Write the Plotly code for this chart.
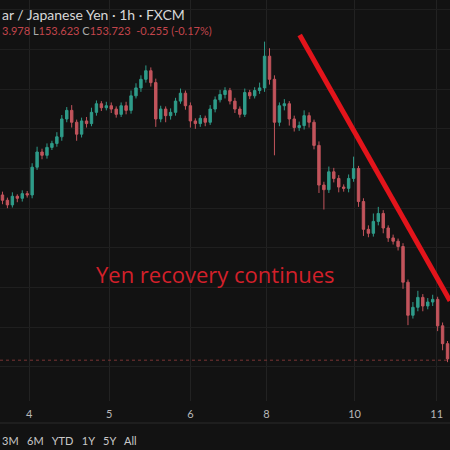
import plotly.graph_objects as go

# hourly USD/JPY candles (closes, open = previous close)
closes = [156.12, 156.05, 156.18, 156.15, 156.22, 156.20, 156.62, 156.85, 156.80, 156.92,
          156.98, 157.08, 157.35, 157.48, 157.30, 157.12, 157.32, 157.28, 157.45, 157.58,
          157.52, 157.55, 157.50, 157.42, 157.55, 157.48, 157.70, 157.82, 157.95, 158.08,
          157.90, 157.35, 157.50, 157.40, 157.45, 157.62, 157.74, 157.55, 157.32, 157.28,
          157.36, 157.30, 157.50, 157.64, 157.72, 157.78, 157.62, 157.50, 157.42, 157.75,
          157.70, 157.78, 157.82, 158.30, 157.95, 157.30, 157.55, 157.58, 157.35, 157.22,
          157.25, 157.40, 157.30, 156.95, 156.35, 156.28, 156.55, 156.45, 156.32, 156.30,
          156.45, 156.60, 156.10, 155.68, 155.62, 155.80, 155.92, 155.70, 155.55, 155.50,
          155.42, 154.88, 154.38, 154.50, 154.65, 154.52, 154.58, 154.62, 154.22, 153.95,
          153.72]
first_open = 156.20
upper_wick = [0.05, 0.04, 0.06, 0.03, 0.05, 0.04, 0.06, 0.08, 0.05, 0.06,
              0.04, 0.07, 0.06, 0.05, 0.08, 0.04, 0.05, 0.06, 0.07, 0.05,
              0.04, 0.06, 0.05, 0.04, 0.05, 0.06, 0.08, 0.07, 0.06, 0.08,
              0.05, 0.06, 0.05, 0.04, 0.06, 0.05, 0.07, 0.04, 0.05, 0.04,
              0.05, 0.04, 0.06, 0.05, 0.07, 0.05, 0.04, 0.05, 0.04, 0.06,
              0.04, 0.05, 0.08, 0.22, 0.12, 0.06, 0.05, 0.07, 0.04, 0.05,
              0.06, 0.08, 0.05, 0.04, 0.06, 0.05, 0.08, 0.06, 0.05, 0.04,
              0.06, 0.18, 0.04, 0.05, 0.06, 0.12, 0.10, 0.05, 0.04, 0.05,
              0.04, 0.05, 0.04, 0.08, 0.10, 0.05, 0.06, 0.07, 0.04, 0.05,
              0.04]
lower_wick = [0.06, 0.05, 0.04, 0.06, 0.05, 0.04, 0.05, 0.04, 0.06, 0.05,
              0.04, 0.05, 0.06, 0.05, 0.08, 0.10, 0.05, 0.06, 0.04, 0.05,
              0.05, 0.04, 0.06, 0.05, 0.04, 0.06, 0.05, 0.04, 0.06, 0.05,
              0.06, 0.12, 0.05, 0.10, 0.06, 0.05, 0.04, 0.06, 0.10, 0.08,
              0.05, 0.06, 0.04, 0.05, 0.04, 0.06, 0.05, 0.06, 0.05, 0.04,
              0.05, 0.04, 0.05, 0.06, 0.08, 0.50, 0.06, 0.07, 0.10, 0.06,
              0.05, 0.06, 0.08, 0.06, 0.12, 0.30, 0.05, 0.06, 0.08, 0.05,
              0.06, 0.05, 0.08, 0.10, 0.06, 0.05, 0.06, 0.08, 0.06, 0.05,
              0.06, 0.10, 0.15, 0.05, 0.06, 0.08, 0.05, 0.06, 0.08, 0.10,
              0.05]
tick_pos = [5.4, 21.6, 38, 53.4, 71.2, 87.8]
tick_text = ["4", "5", "6", "8", "10", "11"]

opens = [first_open] + closes[:-1]
highs = [max(o, c) + w for o, c, w in zip(opens, closes, upper_wick)]
lows = [min(o, c) - w for o, c, w in zip(opens, closes, lower_wick)]
idx = list(range(len(closes)))

fig = go.Figure(go.Candlestick(
    x=idx, open=opens, high=highs, low=lows, close=closes,
    increasing=dict(line=dict(color="#2f9c8a", width=1), fillcolor="#2f9c8a"),
    decreasing=dict(line=dict(color="#c2545c", width=1), fillcolor="#c2545c"),
    whiskerwidth=0, showlegend=False,
))

fig.add_shape(type="line", xref="x", yref="y", x0=-0.5, x1=90.5, y0=153.70, y1=153.70,
              line=dict(color="#7a3535", width=1, dash="dot"))
fig.add_shape(type="line", xref="x", yref="y", x0=60.1, y0=158.62, x1=90.5, y1=154.6,
              line=dict(color="#e3141b", width=5))
fig.add_annotation(x=43, y=155.0, text="Yen recovery continues", showarrow=False,
                   font=dict(color="#d3202a", size=22, family="Open Sans"))

# header and footer
fig.add_annotation(xref="paper", yref="paper", x=0, y=1, xanchor="left", yanchor="top",
                   yshift=-4, showarrow=False,
                   text="ar / Japanese Yen · 1h · FXCM",
                   font=dict(color="#d8d8d8", size=14, family="Lato"))
fig.add_annotation(xref="paper", yref="paper", x=0, y=1, xanchor="left", yanchor="top",
                   yshift=-22, showarrow=False,
                   text="<span style='color:#c2454c'>3.978</span> <span style='color:#aaa'>L</span>"
                        "<span style='color:#c2454c'>153.623</span> <span style='color:#aaa'>C</span>"
                        "<span style='color:#c2454c'>153.723  -0.255 (-0.17%)</span>",
                   font=dict(size=11, family="Lato"))
fig.add_shape(type="line", xref="paper", yref="paper", x0=0, x1=1, y0=0.06, y1=0.06,
              line=dict(color="#2a2a2a", width=1))
fig.add_annotation(xref="paper", yref="paper", x=0, y=0.022, xanchor="left", yanchor="middle",
                   showarrow=False, text="3M   6M   YTD   1Y   5Y   All",
                   font=dict(color="#c8c8c8", size=11, family="Lato"))

fig.update_layout(
    width=450, height=450, margin=dict(l=0, r=0, t=0, b=0),
    paper_bgcolor="#121212", plot_bgcolor="#121212",
    xaxis=dict(range=[-0.5, 90.5], rangeslider=dict(visible=False), tickvals=tick_pos,
               ticktext=tick_text, gridcolor="#222222", zeroline=False, showline=False,
               automargin=False, ticks="outside", ticklen=3, tickcolor="#121212",
               tickfont=dict(color="#b8b8b8", size=11, family="Lato")),
    yaxis=dict(range=[153.09, 159.15], domain=[0.11, 1], showticklabels=False,
               gridcolor="#1f1f1f", dtick=0.6, zeroline=False, automargin=False),
)

fig.write_html("out.html", config={"displayModeBar": False},
               post_script="document.body.style.margin='0';document.body.style.background='#121212';")
